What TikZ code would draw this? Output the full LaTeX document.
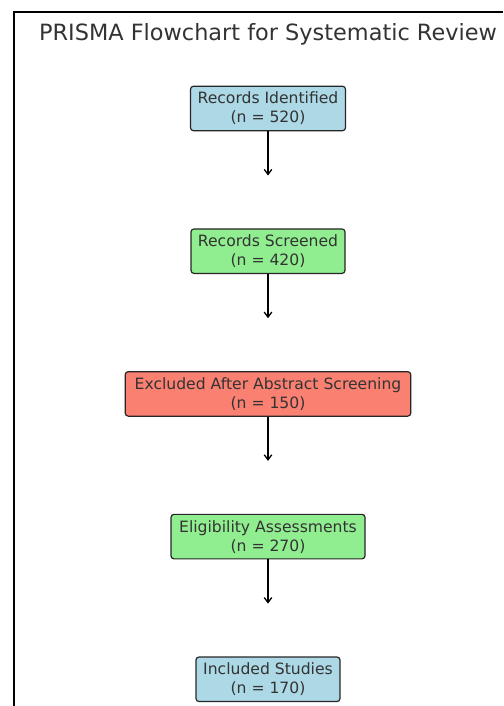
\documentclass[tikz,border=0pt]{standalone}
\usepackage{fontspec}
\setmainfont{DejaVu Sans}
\usetikzlibrary{arrows.meta}
\definecolor{txt}{HTML}{333333}
\definecolor{lblue}{HTML}{ADD8E6}
\definecolor{lgreen}{HTML}{90EE90}
\definecolor{salmon}{HTML}{FA8072}
\tikzset{
  box/.style={draw=black!85, line width=1.2pt, rounded corners=3pt, align=center,
    inner xsep=0pt, inner ysep=0pt, minimum height=44.5pt, text=txt,
    font=\fontsize{15.6}{19}\selectfont},
  arr/.style={draw=black, line width=1.2pt, -{Straight Barb[length=5pt,width=7.5pt,line width=1.3pt]}},
  frame/.style={draw=black, line width=1.1pt},
  ttl/.style={text=txt, font=\fontsize{22.4}{26}\selectfont, inner sep=0pt, anchor=base}
}
\begin{document}
\begin{tikzpicture}[x=1pt,y=-1pt]
\useasboundingbox (0,0) rectangle (503,706);
\draw[frame] (14,706) -- (14,12) -- (503,12);
\node[ttl] (title) at (268,41) {PRISMA Flowchart for Systematic Review};
\node[box, fill=lblue, minimum width=155pt] (b1) at (268,108.5) {Records Identified\\(n = 520)};
\node[box, fill=lgreen, minimum width=154pt] (b2) at (268,251.2) {Records Screened\\(n = 420)};
\node[box, fill=salmon, minimum width=285.5pt] (b3) at (268,393.9) {Excluded After Abstract Screening\\(n = 150)};
\node[box, fill=lgreen, minimum width=194pt] (b4) at (268,536.6) {Eligibility Assessments\\(n = 270)};
\node[box, fill=lblue, minimum width=144pt] (b5) at (268,679.3) {Included Studies\\(n = 170)};
\coordinate (e1) at (268,175.5);
\coordinate (e2) at (268,318.2);
\coordinate (e3) at (268,460.9);
\coordinate (e4) at (268,603.6);
\draw[arr] (b1.south) -- (e1);
\draw[arr] (b2.south) -- (e2);
\draw[arr] (b3.south) -- (e3);
\draw[arr] (b4.south) -- (e4);
\end{tikzpicture}
\end{document}
